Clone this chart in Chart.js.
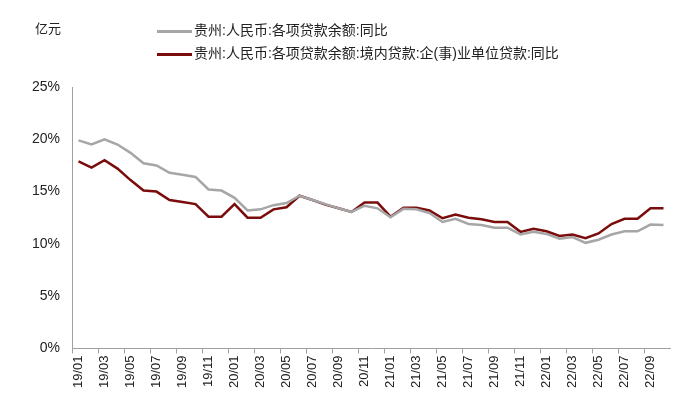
<!DOCTYPE html>
<html>
<head>
<meta charset="utf-8">
<script src="https://cdn.jsdelivr.net/npm/chart.js@4"></script>
<style>
  body { margin: 0; background: #fff; }
  #wrap { position: relative; width: 700px; height: 408px; font-family: "Liberation Sans", "Noto Sans CJK SC", sans-serif; }
  #unit { position: absolute; left: 35px; top: 18px; font-size: 13px; color: #222; }
  .leg { position: absolute; left: 157px; font-size: 14px; line-height: 18px; color: #222; white-space: nowrap; }
  .leg span { display: inline-block; width: 35px; height: 3px; vertical-align: middle; margin-right: 2px; }
</style>
</head>
<body>
<div id="wrap">
  <canvas id="chart1" width="700" height="408"></canvas>
  <div id="unit">亿元</div>
  <div class="leg" style="top:21px"><span style="background:#a6a6a6"></span>贵州:人民币:各项贷款余额:同比</div>
  <div class="leg" style="top:44px"><span style="background:#7b0c0c"></span>贵州:人民币:各项贷款余额:境内贷款:企(事)业单位贷款:同比</div>
</div>
<script>
// months 19/01 .. 22/10
const months = [];
for (let y = 19; y <= 22; y++) {
    for (let m = 1; m <= 12; m++) {
        if (y === 22 && m > 10) break;
        months.push(y + '/' + String(m).padStart(2, '0'));
    }
}

// 贵州:人民币:各项贷款余额:同比
const totalLoans = [
    19.9, 19.5, 20.0, 19.5, 18.7, 17.7, 17.5, 16.8, 16.6, 16.4, 15.2, 15.1,
    14.4, 13.2, 13.3, 13.7, 13.9, 14.6, 14.2, 13.8, 13.4, 13.05, 13.65, 13.4,
    12.55, 13.35, 13.3, 12.95, 12.1, 12.4, 11.9, 11.8, 11.55, 11.55, 10.9, 11.15,
    10.95, 10.5, 10.65, 10.1, 10.4, 10.9, 11.2, 11.2, 11.85, 11.8
];

// 贵州:人民币:各项贷款余额:境内贷款:企(事)业单位贷款:同比
const corpLoans = [
    17.9, 17.3, 18.0, 17.2, 16.1, 15.1, 15.0, 14.2, 14.0, 13.8, 12.6, 12.6,
    13.8, 12.5, 12.5, 13.3, 13.5, 14.6, 14.2, 13.75, 13.4, 13.05, 13.95, 13.95,
    12.6, 13.45, 13.45, 13.2, 12.45, 12.8, 12.5, 12.35, 12.1, 12.1, 11.15, 11.45,
    11.2, 10.75, 10.9, 10.55, 11.0, 11.9, 12.4, 12.4, 13.4, 13.4
];

const yTicks = [0, 5, 10, 15, 20, 25];

const axisColor = '#a0a0a0';

new Chart(document.getElementById('chart1'), {
    type: 'line',
    data: {
        labels: months,
        datasets: [
            { label: '贵州:人民币:各项贷款余额:同比', data: totalLoans, borderColor: '#a6a6a6', borderWidth: 2.5, pointRadius: 0, tension: 0 },
            { label: '贵州:人民币:各项贷款余额:境内贷款:企(事)业单位贷款:同比', data: corpLoans, borderColor: '#7b0c0c', borderWidth: 2.5, pointRadius: 0, tension: 0 }
        ]
    },
    options: {
        responsive: false,
        animation: false,
        layout: { padding: { top: 87, left: 28, right: 30, bottom: 18 } },
        plugins: { legend: { display: false }, tooltip: { enabled: false } },
        scales: {
            x: {
                offset: true,
                grid: {
                    offset: true,
                    drawOnChartArea: false,
                    tickLength: 5,
                    color: ctx => (ctx.index % 2 === 0 ? axisColor : 'rgba(0,0,0,0)')
                },
                border: { color: axisColor, width: 1 },
                ticks: {
                    autoSkip: false,
                    minRotation: 90,
                    maxRotation: 90,
                    color: '#222',
                    font: { family: '"Liberation Sans", Arial, sans-serif', size: 13 },
                    padding: 2,
                    callback: function (v, i) { return i % 2 === 0 ? months[i] : ''; }
                }
            },
            y: {
                min: 0,
                max: 25,
                afterBuildTicks: axis => { axis.ticks = yTicks.map(v => ({ value: v })); },
                grid: { display: false },
                border: { color: axisColor, width: 1 },
                ticks: {
                    color: '#222',
                    font: { family: '"Liberation Sans", Arial, sans-serif', size: 14 },
                    padding: 4,
                    callback: v => v + '%'
                }
            }
        }
    }
});
</script>
</body>
</html>
